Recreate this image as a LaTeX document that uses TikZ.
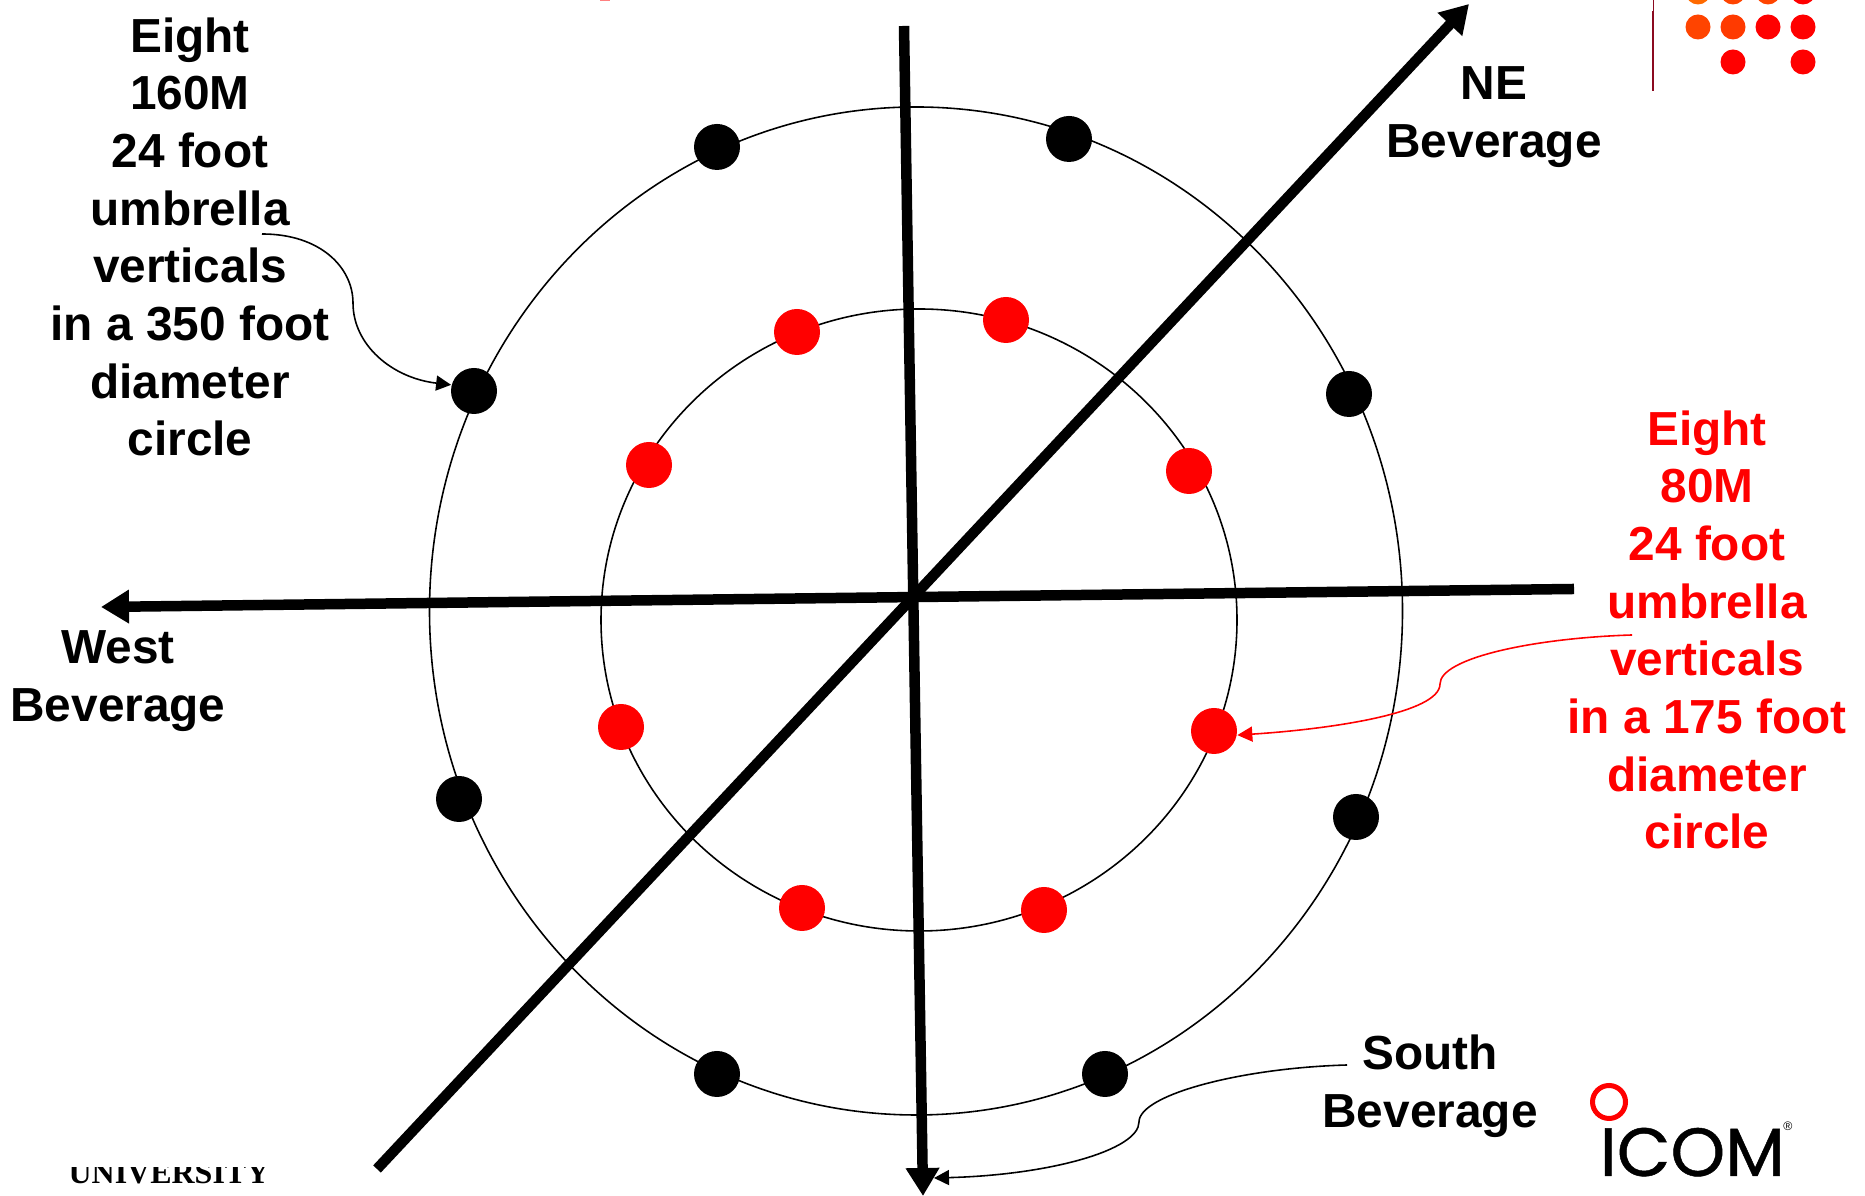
\documentclass[tikz,border=0pt]{standalone}
\usepackage{fontspec}
\setmainfont{Liberation Sans}
\newfontfamily\logofont[FakeBold=0.7,FakeStretch=1.02]{Poppins}
\newfontfamily\seriffont{Liberation Serif}
\usetikzlibrary{arrows.meta}
\definecolor{bandred}{HTML}{8B0A20}
\tikzset{
  axisline/.style={line width=0.105cm,-{Triangle[length=0.28cm,width=0.32cm]}},
  ringline/.style={black,line width=0.45pt},
  calloutline/.style={line width=0.45pt,-{Triangle[length=0.15cm,width=0.15cm]}},
  blackdot/.style={circle,fill=black,inner sep=0pt,minimum size=0.46cm},
  reddot/.style={circle,fill=red,inner sep=0pt,minimum size=0.46cm},
  cornerdot/.style={circle,inner sep=0pt,minimum size=0.25cm},
  blocktext/.style={align=center,font=\fontsize{13.6}{16.4}\selectfont\bfseries}
}
\begin{document}
\begin{tikzpicture}[x=1cm,y=1cm]
\clip (0,0) rectangle (18.65,11.96);
\fill[white] (0,0) rectangle (18.65,11.96);
% rings
\draw[ringline] (9.16,5.85) ellipse [x radius=4.865,y radius=5.04];
\draw[ringline] (9.19,5.76) ellipse [x radius=3.18,y radius=3.11];
% beverages
\coordinate (northend) at (9.04,11.70);
\coordinate (southtip) at (9.23,0.00);
\coordinate (eastend) at (15.74,6.07);
\coordinate (westtip) at (1.01,5.89);
\coordinate (swend) at (3.77,0.27);
\coordinate (netip) at (14.69,11.92);
\draw[axisline] (northend) -- (southtip);
\draw[axisline] (eastend) -- (westtip);
\draw[axisline] (swend) -- (netip);
% 160M verticals
\node[blackdot] (black1) at (7.17,10.49) {};
\node[blackdot] (black2) at (10.69,10.57) {};
\node[blackdot] (black3) at (13.49,8.02) {};
\node[blackdot] (black4) at (13.56,3.79) {};
\node[blackdot] (black5) at (11.05,1.22) {};
\node[blackdot] (black6) at (7.17,1.22) {};
\node[blackdot] (black7) at (4.59,3.97) {};
\node[blackdot] (black8) at (4.74,8.05) {};
% 80M verticals
\node[reddot] (red1) at (7.97,8.64) {};
\node[reddot] (red2) at (10.06,8.76) {};
\node[reddot] (red3) at (11.89,7.25) {};
\node[reddot] (red4) at (12.14,4.65) {};
\node[reddot] (red5) at (10.44,2.86) {};
\node[reddot] (red6) at (8.02,2.88) {};
\node[reddot] (red7) at (6.21,4.69) {};
\node[reddot] (red8) at (6.49,7.31) {};
% labels
\node[blocktext] (blacklabel) at (1.90,9.59) {Eight\\160M\\24 foot\\umbrella\\verticals\\in a 350 foot\\diameter\\circle};
\node[blocktext,text=red] (redlabel) at (17.07,5.66) {Eight\\80M\\24 foot\\umbrella\\verticals\\in a 175 foot\\diameter\\circle};
\node[blocktext] (nelabel) at (14.94,10.79) {NE\\Beverage};
\node[blocktext] (westlabel) at (1.18,5.15) {West\\Beverage};
\node[blocktext] (southlabel) at (14.30,1.10) {South\\Beverage};
% callouts
\coordinate (blackstart) at (2.62,9.62);
\coordinate (redstart) at (16.32,5.61);
\coordinate (southstart) at (13.47,1.31);
\coordinate (southend) at (9.34,0.18);
\draw[calloutline] (blackstart) .. controls (3.21,9.62) and (3.53,9.28) .. (3.53,8.93)
  .. controls (3.53,8.51) and (3.92,8.18) .. (black8.165);
\draw[calloutline,red] (redstart) .. controls (15.34,5.58) and (14.40,5.38) .. (14.40,5.12)
  .. controls (14.40,4.83) and (13.32,4.67) .. (red4.-10);
\draw[calloutline] (southstart) .. controls (12.40,1.28) and (11.39,1.01) .. (11.39,0.74)
  .. controls (11.39,0.46) and (10.50,0.21) .. (southend);
% corner dots
\node[cornerdot,fill={rgb,255:red,255;green,106;blue,0}] (top1) at (16.98,12.04) {};
\node[cornerdot,fill={rgb,255:red,255;green,68;blue,0}] (top2) at (17.33,12.04) {};
\node[cornerdot,fill={rgb,255:red,255;green,68;blue,0}] (top3) at (17.68,12.04) {};
\node[cornerdot,fill=red] (top4) at (18.03,12.04) {};
\node[cornerdot,fill={rgb,255:red,255;green,68;blue,0}] (mid1) at (16.98,11.69) {};
\node[cornerdot,fill={rgb,255:red,255;green,58;blue,0}] (mid2) at (17.33,11.69) {};
\node[cornerdot,fill=red] (mid3) at (17.68,11.69) {};
\node[cornerdot,fill=red] (mid4) at (18.03,11.69) {};
\node[cornerdot,fill=red] (low2) at (17.33,11.34) {};
\node[cornerdot,fill=red] (low4) at (18.03,11.34) {};
\draw[bandred,line width=0.02cm] (16.53,11.05) -- (16.53,11.85);
\draw[bandred,line width=0.01cm] (16.535,11.85) -- (16.535,11.96);
\fill[red!50] (6.00,11.95) rectangle (6.10,11.96);
% logo
\draw[red,line width=0.05cm] (16.09,0.94) circle (0.165);
\node[anchor=base west,inner sep=0pt,font=\logofont\fontsize{19.4}{20}\selectfont] (icom) at (15.99,0.20) {ICOM};
\node[anchor=center,inner sep=0pt,font=\fontsize{3.5}{4}\selectfont] (regmark) at (17.88,0.70) {®};
\begin{scope}
\clip (0,0) rectangle (4,0.28);
\node[anchor=base,inner sep=0pt,font=\seriffont\fontsize{9.1}{10}\selectfont\bfseries] (univ) at (1.69,0.12) {UNIVERSITY};
\end{scope}
\end{tikzpicture}
\end{document}
